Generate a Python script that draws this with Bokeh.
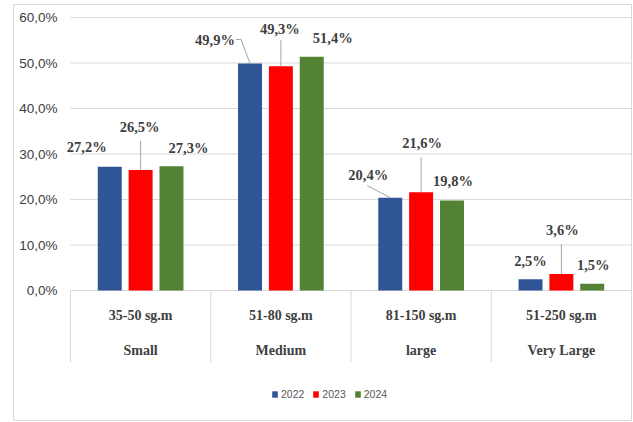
import numpy as np
from bokeh.plotting import figure
from bokeh.models import (ColumnDataSource, LinearAxis, FixedTicker, Legend,
                          LegendItem, Range1d)
from bokeh.core.properties import value
from bokeh.embed import file_html
from bokeh.resources import INLINE

# ---- data -------------------------------------------------------------
size_ranges = ["35-50 sg.m", "51-80 sg.m", "81-150 sg.m", "51-250 sg.m"]
size_classes = ["Small", "Medium", "large", "Very Large"]
years = ["2022", "2023", "2024"]
share_2022 = [27.2, 49.9, 20.4, 2.5]
share_2023 = [26.5, 49.3, 21.6, 3.6]
share_2024 = [27.3, 51.4, 19.8, 1.5]
y_ticks = [0, 10, 20, 30, 40, 50, 60]
y_tick_labels = ["0,0%", "10,0%", "20,0%", "30,0%", "40,0%", "50,0%", "60,0%"]

# ---- styling ----------------------------------------------------------
colors = ["#2F5597", "#FF0000", "#548235"]
bar_offsets = [-0.22, 0.0, 0.22]
bar_width = 0.171
grid_color = "#d9d9d9"
text_color = "#404040"
serif = value("Liberation Serif")

# label offsets (px, from the top of each bar) per series and category
label_dx = [[-23, -35, -22, 0], [-1, -1, 1, 1], [17, 21, 1, 1]]
label_dy = [[-20, -23, -23, -18], [-43, -37, -49, -44], [-18, -19, -19, -19]]
# leader line points (px, relative to the bar top), ending at the bar top
leaders = [
    [None, [(-14, -24), (-9, -24)], [(-23, -12)], None],
    [[(0, -29)], [(0, -26)], [(0, -35)], [(0, -30)]],
    [None, None, None, None],
]

# ---- geometry ---------------------------------------------------------
W, H = 633, 422
FRAME_L, FRAME_T, FRAME_R, FRAME_B = 13, 4, 631, 420
X0_PX, Y0_PX, YTOP_PX = 70, 290, 17
PX = (FRAME_R - X0_PX) / len(size_ranges)
PY = (Y0_PX - YTOP_PX) / y_ticks[-1]

x_range = Range1d(-(X0_PX - FRAME_L) / PX, len(size_ranges))
y_range = Range1d(-(FRAME_B - Y0_PX) / PY, y_ticks[-1] + (YTOP_PX - FRAME_T) / PY)

p = figure(width=W, height=H, x_range=x_range, y_range=y_range,
           output_backend="svg", toolbar_location=None,
           x_axis_location=None, y_axis_location=None,
           min_border_left=FRAME_L, min_border_right=W - FRAME_R,
           min_border_top=FRAME_T, min_border_bottom=H - FRAME_B)
p.grid.grid_line_color = None
p.outline_line_color = grid_color
p.outline_line_width = 1
p.background_fill_color = "white"
p.border_fill_color = "white"

# y axis sitting at x = 0 inside the chart area
overrides = {}
for t, lab in zip(y_ticks, y_tick_labels):
    overrides[t] = lab
yaxis = LinearAxis(ticker=FixedTicker(ticks=y_ticks), major_label_overrides=overrides,
                   fixed_location=0, axis_line_color=None, major_tick_line_color=None,
                   minor_tick_line_color=None, major_tick_out=0, major_tick_in=0,
                   major_label_standoff=13,
                   major_label_text_font="Liberation Sans",
                   major_label_text_font_size="13.5px",
                   major_label_text_color=text_color)
p.add_layout(yaxis, "left")

n = len(size_ranges)
centers = np.arange(n) + 0.5

# horizontal gridlines
p.segment(x0=[0] * len(y_ticks), x1=[n] * len(y_ticks), y0=y_ticks, y1=y_ticks,
          line_color=grid_color, line_width=1)
# category separators below the axis
sep_bottom = -(362 - Y0_PX) / PY
p.segment(x0=list(range(n + 1)), x1=list(range(n + 1)), y0=[0] * (n + 1),
          y1=[sep_bottom] * (n + 1), line_color=grid_color, line_width=1)


def pct_label(v):
    return f"{v:.1f}%".replace(".", ",")


series = [share_2022, share_2023, share_2024]
bar_renderers = []
lead_xs, lead_ys = [], []
for s, vals in enumerate(series):
    xs = centers + bar_offsets[s]
    src = ColumnDataSource(dict(x=xs, top=vals, label=[pct_label(v) for v in vals],
                                dx=label_dx[s], dy=label_dy[s]))
    r = p.vbar(x="x", top="top", bottom=0, width=bar_width, source=src,
               fill_color=colors[s], line_color=None)
    bar_renderers.append(r)
    p.text(x="x", y="top", text="label", x_offset="dx", y_offset="dy", source=src,
           text_font=serif, text_font_style="bold", text_font_size="14.5px",
           text_color=text_color, text_align="center", text_baseline="middle")
    for c, v in enumerate(vals):
        pts = leaders[s][c]
        if pts is None:
            continue
        lead_xs.append([xs[c] + px / PX for px, _ in pts] + [xs[c]])
        lead_ys.append([v - py / PY for _, py in pts] + [v])

p.multi_line(xs=lead_xs, ys=lead_ys, line_color="#a6a6a6", line_width=1)

# two-level category labels
p.text(x=centers, y=[0] * n, text=size_ranges, y_offset=25,
       text_font=serif, text_font_style="bold", text_font_size="14px",
       text_color=text_color, text_align="center", text_baseline="middle")
p.text(x=centers, y=[0] * n, text=size_classes, y_offset=60,
       text_font=serif, text_font_style="bold", text_font_size="14px",
       text_color=text_color, text_align="center", text_baseline="middle")

legend = Legend(items=[LegendItem(label=y, renderers=[r]) for y, r in zip(years, bar_renderers)],
                orientation="horizontal", location=(258, 20),
                glyph_width=7, glyph_height=8, label_standoff=3, spacing=8,
                padding=0, margin=0, border_line_color=None, background_fill_alpha=0,
                label_text_font="Liberation Sans", label_text_font_size="10.5px",
                label_text_color="#595959", label_height=10)
p.add_layout(legend)

open("out.html", "w").write(file_html(p, INLINE))
